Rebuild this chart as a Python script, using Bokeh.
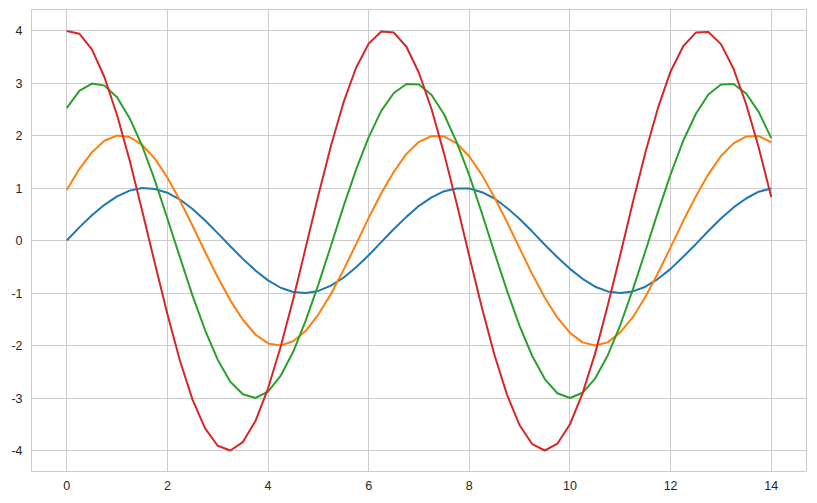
from bokeh.plotting import figure
from bokeh.models import Range1d, FixedTicker, PrintfTickFormatter
from bokeh.embed import file_html
from bokeh.resources import INLINE

x = [0.0, 0.25, 0.5, 0.75, 1.0, 1.25, 1.5, 1.75, 2.0, 2.25, 2.5, 2.75, 3.0, 3.25, 3.5, 3.75,
     4.0, 4.25, 4.5, 4.75, 5.0, 5.25, 5.5, 5.75, 6.0, 6.25, 6.5, 6.75, 7.0, 7.25, 7.5, 7.75,
     8.0, 8.25, 8.5, 8.75, 9.0, 9.25, 9.5, 9.75, 10.0, 10.25, 10.5, 10.75, 11.0, 11.25, 11.5, 11.75,
     12.0, 12.25, 12.5, 12.75, 13.0, 13.25, 13.5, 13.75, 14.0]

blue = [0.00, 0.25, 0.48, 0.68, 0.84, 0.95, 1.00, 0.98, 0.91, 0.78, 0.60, 0.38, 0.14, -0.11, -0.35, -0.57,
        -0.76, -0.90, -0.98, -1.00, -0.96, -0.86, -0.71, -0.51, -0.28, -0.03, 0.22, 0.45, 0.66, 0.82, 0.94, 0.99,
        0.99, 0.92, 0.80, 0.62, 0.41, 0.17, -0.08, -0.32, -0.54, -0.73, -0.88, -0.97, -1.00, -0.97, -0.88, -0.73,
        -0.54, -0.31, -0.07, 0.18, 0.42, 0.63, 0.80, 0.93, 0.99]

orange = [0.96, 1.36, 1.68, 1.90, 2.00, 1.97, 1.82, 1.56, 1.20, 0.76, 0.28, -0.22, -0.70, -1.14, -1.51, -1.79,
          -1.96, -2.00, -1.92, -1.72, -1.41, -1.02, -0.56, -0.07, 0.43, 0.90, 1.31, 1.65, 1.88, 1.99, 1.98, 1.85,
          1.60, 1.25, 0.82, 0.35, -0.15, -0.64, -1.09, -1.47, -1.76, -1.94, -2.00, -1.94, -1.75, -1.46, -1.07, -0.62,
          -0.13, 0.37, 0.84, 1.26, 1.61, 1.85, 1.98, 1.99, 1.87]

green = [2.52, 2.85, 2.99, 2.95, 2.73, 2.33, 1.80, 1.15, 0.42, -0.32, -1.05, -1.71, -2.27, -2.69, -2.93, -3.00,
         -2.88, -2.58, -2.12, -1.52, -0.84, -0.10, 0.65, 1.35, 1.97, 2.47, 2.81, 2.98, 2.97, 2.77, 2.40, 1.87,
         1.24, 0.52, -0.23, -0.96, -1.63, -2.20, -2.64, -2.91, -3.00, -2.90, -2.63, -2.19, -1.61, -0.93, -0.20, 0.55,
         1.26, 1.90, 2.41, 2.78, 2.97, 2.98, 2.80, 2.45, 1.95]

red = [3.99, 3.94, 3.64, 3.11, 2.39, 1.53, 0.56, -0.43, -1.40, -2.29, -3.03, -3.58, -3.91, -4.00, -3.84, -3.44,
       -2.82, -2.03, -1.12, -0.13, 0.86, 1.80, 2.63, 3.29, 3.75, 3.98, 3.96, 3.69, 3.19, 2.50, 1.65, 0.70,
       -0.30, -1.28, -2.18, -2.94, -3.52, -3.88, -4.00, -3.87, -3.50, -2.91, -2.15, -1.24, -0.27, 0.73, 1.68, 2.53,
       3.22, 3.70, 3.96, 3.97, 3.74, 3.27, 2.60, 1.77, 0.83]

x_ticks = [0, 2, 4, 6, 8, 10, 12, 14]
y_ticks = [-4, -3, -2, -1, 0, 1, 2, 3, 4]

series = [(blue, "#1f77b4"), (orange, "#ff7f0e"), (green, "#2ca02c"), (red, "#d62728")]

p = figure(width=807, height=495, output_backend="svg", toolbar_location=None,
           x_range=Range1d(-0.7, 14.7), y_range=Range1d(-4.4, 4.4),
           min_border_left=31, min_border_top=9, min_border_right=1, min_border_bottom=24)

p.background_fill_color = "white"
p.border_fill_color = "white"
p.outline_line_color = "#cccccc"
p.outline_line_width = 1

for ys, c in series:
    p.line(x, ys, line_color=c, line_width=2)

for ax in (p.xaxis, p.yaxis):
    ax.axis_line_color = None
    ax.major_tick_line_color = None
    ax.minor_tick_line_color = None
    ax.major_tick_out = 0
    ax.major_tick_in = 0
    ax.major_label_text_font = "Liberation Sans"
    ax.major_label_text_font_size = "12.5px"
    ax.major_label_text_color = "#262626"
    ax.major_label_standoff = 9
    ax.formatter = PrintfTickFormatter(format="%d")

p.xaxis.ticker = FixedTicker(ticks=x_ticks)
p.yaxis.ticker = FixedTicker(ticks=y_ticks)

p.grid.grid_line_color = "#cccccc"
p.grid.grid_line_width = 1

open("out.html", "w").write(file_html(p, INLINE))
